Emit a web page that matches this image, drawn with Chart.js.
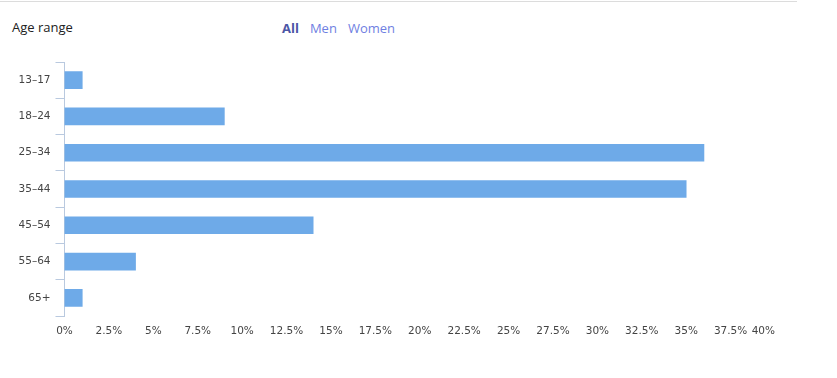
<!DOCTYPE html>
<html>
<head>
<meta charset="utf-8">
<script src="https://cdn.jsdelivr.net/npm/chart.js@4"></script>
<style>
  body { margin: 0; background: #fff; }
  #wrap { position: relative; width: 837px; height: 378px; }
  #topline { position: absolute; left: 0; top: 1px; width: 797px; height: 1px; background: #dcdcdc; }
  #title { position: absolute; left: 12px; top: 18px; font: 13px "Open Sans", sans-serif; color: #222; }
  #filters { position: absolute; left: 282px; top: 19px; font: 13px "Open Sans", sans-serif; color: #6f7fe2; }
  #filters span { margin-right: 11px; }
  #filters .on { font-weight: bold; color: #4c56a6; }
  canvas { position: absolute; left: 0; top: 0; }
</style>
</head>
<body>
<div id="wrap">
  <div id="topline"></div>
  <div id="title">Age range</div>
  <div id="filters"><span class="on">All</span><span>Men</span><span>Women</span></div>
  <canvas id="ageChart" width="837" height="378"></canvas>
</div>
<script>
// age buckets and share of audience (%)
const ageRanges = ["13–17", "18–24", "25–34", "35–44", "45–54", "55–64", "65+"];
const sharePct = [1, 9, 36, 35, 14, 4, 1];
const xMax = 40;
const xStep = 2.5;

const axisColor = "#b9c9df";
const labelFont = { family: "'DejaVu Sans'", size: 10.5 };

// right-align the last x label so it stays inside the plot, like the original
const lastLabelRight = {
  id: "lastLabelRight",
  beforeDraw(chart) {
    const items = chart.scales.x.getLabelItems();
    if (items.length) items[items.length - 1].options.textAlign = "right";
  }
};

new Chart(document.getElementById("ageChart"), {
  type: "bar",
  data: {
    labels: ageRanges,
    datasets: [{
      data: sharePct,
      backgroundColor: "#6eaae8",
      barThickness: 17
    }]
  },
  options: {
    indexAxis: "y",
    responsive: false,
    animation: false,
    layout: { padding: { top: 62, right: 62, bottom: 32, left: 0 } },
    plugins: { legend: { display: false }, tooltip: { enabled: false } },
    scales: {
      x: {
        min: 0,
        max: xMax,
        afterFit: s => { s.height = 30; },
        border: { display: false },
        grid: { display: false, drawTicks: false },
        ticks: {
          stepSize: xStep,
          padding: 9,
          color: "#444",
          font: labelFont,
          maxRotation: 0,
          autoSkip: false,
          callback: v => v + "%"
        }
      },
      y: {
        afterFit: s => { s.width = 64.5; },
        border: { display: true, color: axisColor, width: 1 },
        grid: { drawOnChartArea: false, tickLength: 9, color: axisColor },
        ticks: { padding: 5, color: "#444", font: labelFont }
      }
    }
  },
  plugins: [lastLabelRight]
});
</script>
</body>
</html>
